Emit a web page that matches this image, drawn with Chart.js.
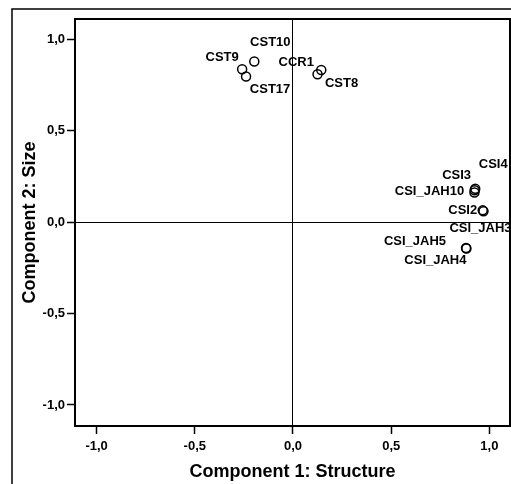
<!DOCTYPE html>
<html>
<head>
<meta charset="utf-8">
<script src="https://cdn.jsdelivr.net/npm/chart.js@4"></script>
<style>
html, body { margin: 0; padding: 0; background: #fff; }
#wrap { width: 511px; height: 484px; position: relative; }
</style>
</head>
<body>
<div id="wrap"><canvas id="scatterChart"></canvas></div>
<script>
// Component loadings
const pointNames = ['CST10', 'CST9', 'CST17', 'CCR1', 'CST8',
    'CSI4', 'CSI3', 'CSI_JAH10', 'CSI2', 'CSI_JAH3', 'CSI_JAH5', 'CSI_JAH4'];
const structure = [-0.197, -0.259, -0.239, 0.144, 0.125,
    0.928, 0.925, 0.924, 0.966, 0.97, 0.881, 0.883];
const size = [0.879, 0.837, 0.797, 0.833, 0.81,
    0.183, 0.175, 0.163, 0.065, 0.06, -0.141, -0.144];
const tickValues = [-1.0, -0.5, 0.0, 0.5, 1.0];

// where each name sits relative to its marker (px)
const labelDx = [16, -20, 24, -25, 24, 18, -18, -45, -20, -3, -51, -31];
const labelDy = [-19, -12, 13, -8, 9, -24, -15, -1, 0, 17, -7, 12];

const FONT = '"Liberation Sans", Arial, sans-serif';
const fmt = v => v.toFixed(1).replace('.', ',');

const frame = {
    id: 'frame',
    afterDraw(chart) {
        const { ctx, chartArea: a } = chart;
        ctx.save();
        ctx.strokeStyle = '#000';
        // outer box
        ctx.lineWidth = 1.5;
        ctx.beginPath();
        ctx.moveTo(12, 484);
        ctx.lineTo(12, 9);
        ctx.lineTo(511, 9);
        ctx.stroke();
        // plot box
        ctx.lineWidth = 2;
        ctx.strokeRect(a.left, a.top, a.right - a.left, a.bottom - a.top);
        ctx.restore();
    }
};

const pointLabels = {
    id: 'pointLabels',
    afterDatasetsDraw(chart) {
        const { ctx } = chart;
        const meta = chart.getDatasetMeta(0);
        ctx.save();
        ctx.font = 'bold 13px ' + FONT;
        ctx.fillStyle = '#000';
        ctx.textAlign = 'center';
        ctx.textBaseline = 'middle';
        meta.data.forEach((pt, i) => {
            ctx.fillText(pointNames[i], pt.x + labelDx[i], pt.y + labelDy[i]);
        });
        ctx.restore();
    }
};

const gridOpts = {
    color: c => (c.tick && c.tick.value === 0) ? '#000' : 'rgba(0,0,0,0)',
    lineWidth: 1,
    tickColor: '#000',
    tickWidth: 1.5,
    tickLength: 8
};

new Chart(document.getElementById('scatterChart'), {
    type: 'scatter',
    data: {
        datasets: [{
            data: structure.map((x, i) => ({ x: x, y: size[i] })),
            pointStyle: 'circle',
            pointRadius: 4.5,
            borderWidth: 1.5,
            borderColor: '#000',
            backgroundColor: 'rgba(0,0,0,0)'
        }]
    },
    options: {
        responsive: true,
        maintainAspectRatio: false,
        devicePixelRatio: 1,
        animation: false,
        layout: { autoPadding: false, padding: { top: 19, right: 1, left: 0, bottom: 0 } },
        plugins: { legend: { display: false }, tooltip: { enabled: false } },
        scales: {
            x: {
                type: 'linear',
                min: -1.11,
                max: 1.105,
                afterBuildTicks: axis => { axis.ticks = tickValues.map(v => ({ value: v })); },
                afterFit: axis => {
                    axis.height = 58;
                    axis.paddingLeft = 0;
                    axis.paddingRight = 0;
                },
                grid: gridOpts,
                border: { display: false },
                ticks: {
                    color: '#000',
                    padding: 5,
                    maxRotation: 0,
                    font: { family: FONT, size: 13, weight: 'bold' },
                    callback: v => fmt(v)
                },
                title: {
                    display: true,
                    text: 'Component 1: Structure',
                    color: '#000',
                    padding: { top: 0, bottom: 1 },
                    font: { family: FONT, size: 18, weight: 'bold' }
                }
            },
            y: {
                type: 'linear',
                min: -1.115,
                max: 1.112,
                afterBuildTicks: axis => { axis.ticks = tickValues.map(v => ({ value: v })); },
                afterFit: axis => {
                    axis.width = 75;
                    axis.paddingTop = 0;
                    axis.paddingBottom = 0;
                },
                grid: gridOpts,
                border: { display: false },
                ticks: {
                    color: '#000',
                    padding: 2,
                    font: { family: FONT, size: 13, weight: 'bold' },
                    callback: v => fmt(v)
                },
                title: {
                    display: true,
                    text: 'Component 2: Size',
                    color: '#000',
                    padding: { top: 19, bottom: 0 },
                    font: { family: FONT, size: 18, weight: 'bold' }
                }
            }
        }
    },
    plugins: [frame, pointLabels]
});
</script>
</body>
</html>
